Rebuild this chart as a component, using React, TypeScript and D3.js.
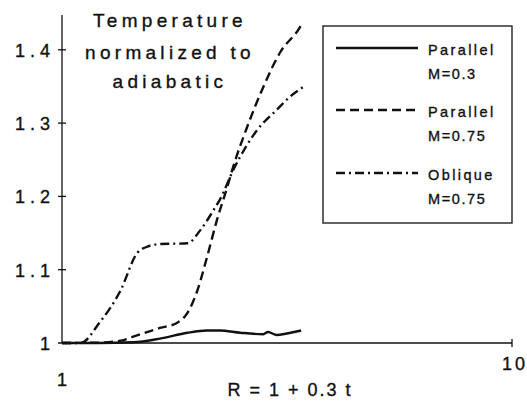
import React from 'react';
import * as d3 from 'd3';

// R = 1 + 0.3 t, temperature normalized to adiabatic
const parallelLowR = [1, 1.2, 1.44, 1.65, 1.9, 2.1, 2.24, 2.49, 2.8, 2.87, 3.0, 3.16, 3.4];
const parallelLowT = [1, 1, 1.001, 1.006, 1.014, 1.017, 1.017, 1.014, 1.012, 1.015, 1.011, 1.013, 1.017];

const parallelHighR = [1, 1.21, 1.37, 1.44, 1.65, 1.8, 1.9, 2.0, 2.1, 2.21, 2.33, 2.4, 2.58, 2.8, 3.05, 3.38, 3.43];
const parallelHighT = [1, 1.0005, 1.004, 1.0086, 1.0205, 1.0273, 1.041, 1.072, 1.117, 1.168, 1.213, 1.24, 1.295, 1.349, 1.396, 1.431, 1.438];

const obliqueR = [1, 1.1, 1.21, 1.35, 1.47, 1.54, 1.65, 1.9, 2.03, 2.17, 2.24, 2.42, 2.71, 3.0, 3.21, 3.43];
const obliqueT = [1, 1.0, 1.0273, 1.072, 1.123, 1.131, 1.135, 1.136, 1.154, 1.181, 1.195, 1.24, 1.29, 1.318, 1.336, 1.349];

const yTicks = [1, 1.1, 1.2, 1.3, 1.4];
const yTickLabels = ['1', '1.1', '1.2', '1.3', '1.4'];
const xTicks = [1, 10];
const xTickLabels = ['1', '10'];

const seriesNames = [['Parallel', 'M=0.3'], ['Parallel', 'M=0.75'], ['Oblique', 'M=0.75']];
const dashes = ['none', '9,5', '9,4,2,4'];

const FONT = '"Liberation Sans", Arial, sans-serif';
const INK = '#111';

export default function App() {
  const W = 527, H = 402;
  const x = d3.scaleLog().domain([1, 10]).range([62, 512]);
  const y = d3.scaleLinear().domain([1, 1.4]).range([343, 49.8]);
  const yTop = 1.4475;

  const series = [
    parallelLowR.map((r, i) => [r, parallelLowT[i]]),
    parallelHighR.map((r, i) => [r, parallelHighT[i]]),
    obliqueR.map((r, i) => [r, obliqueT[i]]),
  ];
  const line = d3.line<number[]>().x(d => x(d[0])).y(d => y(d[1])).curve(d3.curveMonotoneX);

  const legendY = [48, 110, 173];
  const txt = { fontFamily: FONT, fill: INK, stroke: INK, strokeWidth: 0.35 };

  return (
    <svg width={W} height={H} style={{ position: 'absolute', left: 0, top: 0, background: '#fff' }}>
      {/* axes */}
      <line x1={x(1)} x2={x(1)} y1={y(yTop)} y2={y(1)} stroke={INK} strokeWidth={1.3} />
      <line x1={x(1) - 4} x2={x(10)} y1={y(1)} y2={y(1)} stroke={INK} strokeWidth={1.3} />
      <line x1={x(10)} x2={x(10)} y1={y(1) - 4} y2={y(1) + 4} stroke={INK} strokeWidth={1.3} />
      {yTicks.slice(1).map(t => (
        <line key={t} x1={x(1) - 4} x2={x(1) + 4} y1={y(t)} y2={y(t)} stroke={INK} strokeWidth={1.3} />
      ))}
      {yTicks.map((t, i) => (
        <text key={t} {...txt} x={55} y={y(t) + 7} textAnchor="end" fontSize={18} letterSpacing={5}>{yTickLabels[i]}</text>
      ))}
      <text {...txt} x={x(xTicks[0])} y={386} textAnchor="middle" fontSize={18}>{xTickLabels[0]}</text>
      <text {...txt} x={x(xTicks[1]) + 3} y={370} textAnchor="middle" fontSize={18} letterSpacing={3}>{xTickLabels[1]}</text>
      <text {...txt} x={290} y={396} textAnchor="middle" fontSize={18} letterSpacing={2}>R = 1 + 0.3 t</text>

      {/* title */}
      <g {...txt} fontSize={19} letterSpacing={4.3} textAnchor="middle">
        <text x={170} y={27}>Temperature</text>
        <text x={170} y={59}>normalized to</text>
        <text x={170} y={88}>adiabatic</text>
      </g>

      {/* curves */}
      {series.map((s, i) => (
        <path key={i} d={line(s) || ''} fill="none" stroke={INK} strokeWidth={2.4} strokeDasharray={dashes[i]} />
      ))}

      {/* legend */}
      <rect x={323} y={26} width={189} height={197} fill="none" stroke="#222" strokeWidth={1.4} />
      {seriesNames.map((n, i) => (
        <g key={i}>
          <line x1={336} x2={418} y1={legendY[i]} y2={legendY[i]} stroke={INK} strokeWidth={2.4} strokeDasharray={dashes[i]} />
          <text {...txt} x={428} y={legendY[i] + 7} fontSize={14.5} letterSpacing={2.4}>{n[0]}</text>
          <text {...txt} x={428} y={legendY[i] + 31} fontSize={14.5} letterSpacing={1.6}>{n[1]}</text>
        </g>
      ))}
    </svg>
  );
}
